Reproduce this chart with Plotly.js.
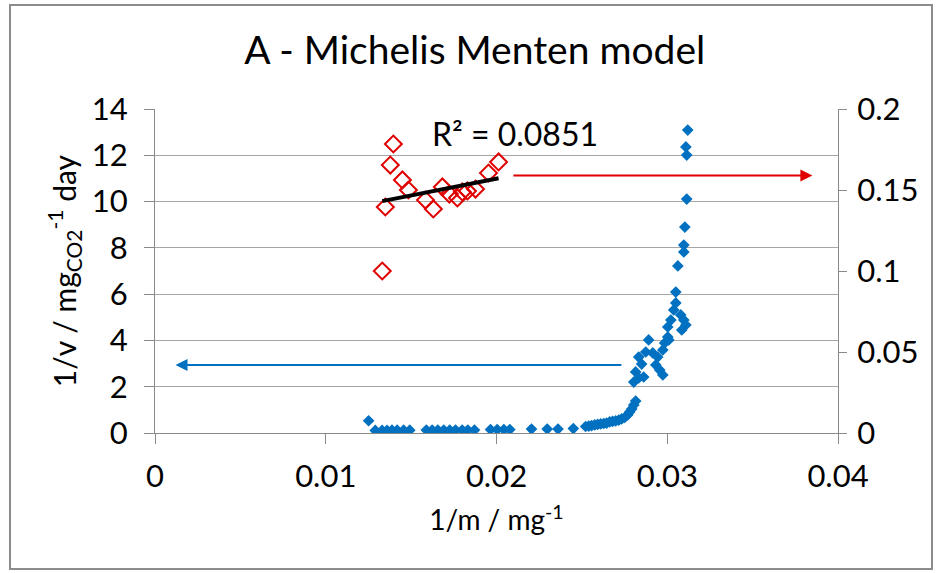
<!DOCTYPE html>
<html>
<head>
<meta charset="utf-8">
<script src="https://cdn.plot.ly/plotly-3.0.1.min.js"></script>
<style>
  html, body { margin: 0; padding: 0; background: #fff; }
  #wrap { position: relative; width: 942px; height: 573px; }
  #chart { position: absolute; left: 0; top: 0; width: 942px; height: 573px; }
  #border { position: absolute; left: 9px; top: 4px; width: 920px; height: 562px;
            border: 2px solid #8c8c8c; pointer-events: none; }
</style>
</head>
<body>
<div id="wrap"><div id="chart"></div><div id="border"></div></div>
<script>
// Blue series (left axis): 1/m vs 1/v
const blueX = [
  0.01251, 0.01290, 0.01330, 0.01359, 0.01388, 0.01418, 0.01456, 0.01492,
  0.01589, 0.01623, 0.01656, 0.01691, 0.01726, 0.01760, 0.01799, 0.01832, 0.01871,
  0.01965, 0.02004, 0.02043, 0.02078, 0.02205, 0.02297, 0.02360, 0.02450,
  0.02522, 0.02540, 0.02557, 0.02575, 0.02592, 0.02610, 0.02628, 0.02645, 0.02663,
  0.02680, 0.02698, 0.02716, 0.02733, 0.02751, 0.02768, 0.02780, 0.02792, 0.02804, 0.02815,
  0.02804, 0.02815, 0.02833, 0.02833, 0.02862, 0.02874, 0.02850, 0.02891, 0.02915,
  0.02933, 0.02944, 0.02956, 0.02974, 0.02974, 0.02985, 0.03003, 0.03003, 0.03021,
  0.03009, 0.03038, 0.03050, 0.03050, 0.03079, 0.03097, 0.03109, 0.03085,
  0.03062, 0.03097, 0.03097, 0.03103, 0.03114, 0.03114, 0.03109, 0.03120
];
const blueY = [
  0.53, 0.11, 0.11, 0.11, 0.12, 0.12, 0.12, 0.12,
  0.13, 0.13, 0.13, 0.13, 0.13, 0.13, 0.13, 0.13, 0.13,
  0.15, 0.15, 0.15, 0.15, 0.17, 0.17, 0.17, 0.19,
  0.28, 0.30, 0.32, 0.35, 0.37, 0.39, 0.41, 0.43, 0.48,
  0.50, 0.52, 0.56, 0.61, 0.67, 0.78, 0.91, 1.04, 1.21, 1.38,
  2.20, 2.64, 2.38, 3.28, 2.42, 3.50, 2.98, 4.02, 3.46,
  2.94, 3.28, 2.72, 2.51, 3.59, 3.89, 4.15, 4.58, 4.88,
  4.02, 5.32, 5.62, 6.09, 5.10, 4.88, 4.67, 4.45,
  7.22, 7.82, 8.12, 8.90, 10.11, 12.01, 12.36, 13.09
];

// Red series (right axis)
const redX = [0.01331, 0.01349, 0.01378, 0.01396, 0.01449, 0.01484, 0.01584, 0.01630,
              0.01683, 0.01724, 0.01771, 0.01800, 0.01830, 0.01877, 0.01953, 0.02012];
const redY = [0.1000, 0.1395, 0.1654, 0.1784, 0.1562, 0.1500, 0.1438, 0.1383,
              0.1519, 0.1475, 0.1451, 0.1488, 0.1494, 0.1506, 0.1605, 0.1673];

// Text labels
const titleText = 'A - Michelis Menten model';
const xTitle = '1/m / mg<sup>-1</sup>';
const yTitle = '1/v / mg<sub>CO2</sub><sup>-1</sup> day';
const r2Text = 'R² = 0.0851';

// Arrow end points (annotation guides)
const redArrow = {from: 0.0209, to: 0.0385, y: 0.159};
const blueArrow = {from: 0.0274, to: 0.0012, y: 2.94};

// Linear trendline of red series
function linreg(xs, ys) {
  const n = xs.length;
  const mx = xs.reduce((a, b) => a + b, 0) / n;
  const my = ys.reduce((a, b) => a + b, 0) / n;
  let sxy = 0, sxx = 0;
  for (let i = 0; i < n; i++) { sxy += (xs[i] - mx) * (ys[i] - my); sxx += (xs[i] - mx) ** 2; }
  const b = sxy / sxx;
  return {b: b, a: my - b * mx};
}
const fit = linreg(redX, redY);
const xMin = Math.min(...redX), xMax = Math.max(...redX);
const trendX = [xMin, xMax];
const trendY = trendX.map(x => fit.a + fit.b * x);

const FONT = 'Lato, Carlito, Calibri, "Open Sans", sans-serif';

const traces = [
  {x: blueX, y: blueY, type: 'scatter', mode: 'markers', yaxis: 'y',
   marker: {symbol: 'diamond', size: 9, color: '#0070C0', line: {width: 0}}},
  {x: redX, y: redY, type: 'scatter', mode: 'markers', yaxis: 'y2',
   marker: {symbol: 'diamond-open', size: 13, color: '#E00000', line: {width: 2, color: '#E00000'}}},
  {x: trendX, y: trendY, type: 'scatter', mode: 'lines', yaxis: 'y2',
   line: {color: '#000', width: 4}}
];

const axCol = '#898989';
const TICK = 31;
const layout = {
  width: 942, height: 573,
  margin: {l: 155, r: 104, t: 109, b: 140, pad: 0},
  paper_bgcolor: '#fff', plot_bgcolor: '#fff',
  showlegend: false,
  font: {family: FONT, size: TICK, color: '#000'},
  title: {text: titleText, x: 0.504, xref: 'container', xanchor: 'center',
          y: 0.913, yref: 'container', yanchor: 'middle', font: {size: 39, family: FONT}},
  xaxis: {range: [0, 0.04], tick0: 0, dtick: 0.01, showgrid: false, zeroline: false,
          showline: true, linecolor: axCol, linewidth: 1, ticks: 'outside', ticklen: 10,
          tickcolor: axCol, tickfont: {size: TICK}, ticklabelstandoff: 6,
          title: {text: xTitle, font: {size: 28}, standoff: 17}},
  yaxis: {range: [0, 14], tick0: 0, dtick: 2, showgrid: true, gridcolor: '#a6a6a6', gridwidth: 1,
          zeroline: false, showline: true, linecolor: axCol, linewidth: 1, ticks: 'outside',
          ticklen: 10, tickcolor: axCol, tickfont: {size: TICK}, ticklabelstandoff: 10},
  yaxis2: {overlaying: 'y', side: 'right', range: [0, 0.2], tick0: 0, dtick: 0.05,
           showgrid: false, zeroline: false, showline: true, linecolor: axCol, linewidth: 1,
           ticks: 'outside', ticklen: 8, tickcolor: axCol, tickfont: {size: TICK}, ticklabelstandoff: 4},
  annotations: [
    {x: -0.133, y: 0.5, xref: 'paper', yref: 'paper', text: yTitle, textangle: -90,
     xanchor: 'center', yanchor: 'middle', showarrow: false,
     font: {size: 30, family: FONT, color: '#000'}},
    {x: 0.02111, y: 12.96, xref: 'x', yref: 'y', text: r2Text, showarrow: false,
     font: {size: 32, family: FONT, color: '#000'}},
    {x: redArrow.to, y: redArrow.y, xref: 'x', yref: 'y2', ax: redArrow.from, ay: redArrow.y,
     axref: 'x', ayref: 'y2', text: '', showarrow: true, arrowhead: 2, arrowsize: 1.2,
     arrowwidth: 2, arrowcolor: '#E00000'},
    {x: blueArrow.to, y: blueArrow.y, xref: 'x', yref: 'y', ax: blueArrow.from, ay: blueArrow.y,
     axref: 'x', ayref: 'y', text: '', showarrow: true, arrowhead: 2, arrowsize: 1.2,
     arrowwidth: 2, arrowcolor: '#0070C0'}
  ]
};

Plotly.newPlot('chart', traces, layout, {displayModeBar: false, staticPlot: true});
</script>
</body>
</html>
